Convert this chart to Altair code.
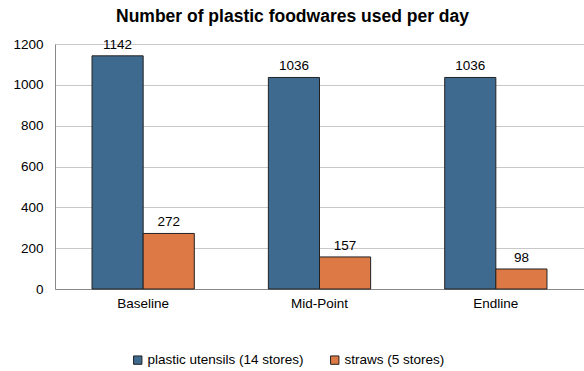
import altair as alt
import pandas as pd

categories = ["Baseline", "Mid-Point", "Endline"]
series = ["plastic utensils (14 stores)", "straws (5 stores)"]
utensils = [1142, 1036, 1036]
straws = [272, 157, 98]

rows = []
for c, u, s in zip(categories, utensils, straws):
    rows.append({"phase": c, "series": series[0], "value": u})
    rows.append({"phase": c, "series": series[1], "value": s})
df = pd.DataFrame(rows)

FONT = "Liberation Sans"

x = alt.X("phase:N", sort=categories, title=None,
          scale=alt.Scale(paddingInner=0.42, paddingOuter=0.21),
          axis=alt.Axis(labelAngle=0, labelFontSize=13.5, labelColor="#000", labelFont=FONT,
                        domainColor="#888", ticks=False, labelPadding=7))
xo = alt.XOffset("series:N", sort=series)
y = alt.Y("value:Q", title=None,
          scale=alt.Scale(domain=[0, 1200]),
          axis=alt.Axis(values=[0, 200, 400, 600, 800, 1000, 1200], format="d", labelFontSize=13.5,
                        labelColor="#000", labelFont=FONT, domainColor="#888", ticks=False,
                        gridColor="#c8c8c8", labelPadding=12))

color = alt.Color("series:N", sort=series, title=None,
                  scale=alt.Scale(domain=series, range=["#3e6a8f", "#dc7944"]),
                  legend=alt.Legend(orient="none", legendX=76, legendY=309, direction="horizontal",
                                    symbolType="square", symbolSize=70, symbolStrokeColor="#222",
                                    symbolStrokeWidth=1, labelFontSize=13.5, labelFont=FONT,
                                    labelColor="#000", columnPadding=24, labelOffset=3,
                                    labelLimit=300))

bars = alt.Chart(df).mark_bar(stroke="#222", strokeWidth=1).encode(x=x, xOffset=xo, y=y, color=color)
labels = alt.Chart(df).mark_text(dy=-11, fontSize=13.5, font=FONT, color="#000").encode(
    x=x, xOffset=xo, y=y, text="value:Q")

chart = (bars + labels).properties(
    width=529, height=245,
    title=alt.Title("Number of plastic foodwares used per day", fontSize=17.5, font=FONT,
                    fontWeight="bold", anchor="middle", offset=12, dx=-27),
    autosize=alt.AutoSizeParams(type="none"),
    padding={"left": 55, "top": 44, "right": 0, "bottom": 82},
).configure_view(stroke=None).configure(background="white")

chart.save("out.html", embed_options={"renderer": "svg", "actions": False})
